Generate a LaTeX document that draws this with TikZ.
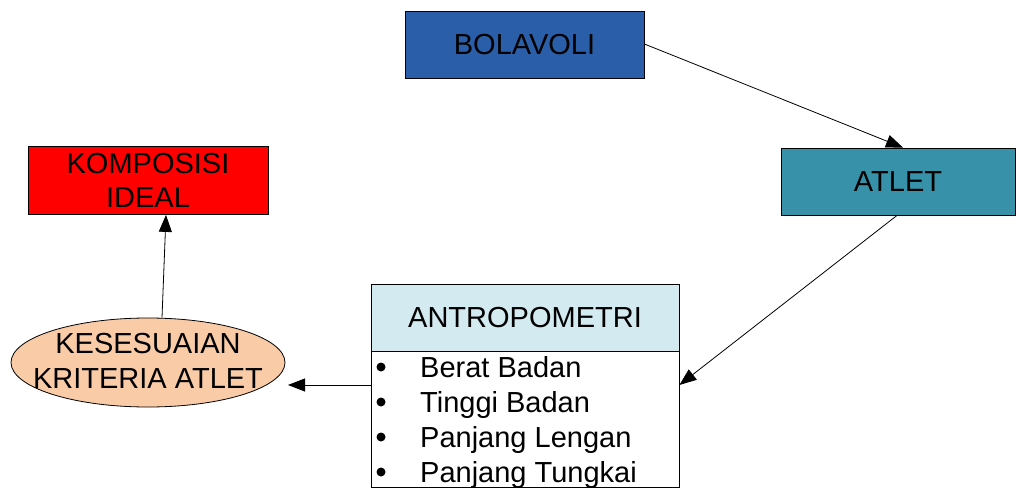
\documentclass[tikz,border=0pt]{standalone}
\usepackage{fontspec}
\setmainfont{Liberation Sans}
\usetikzlibrary{arrows.meta,shapes.geometric}
\definecolor{cblue}{HTML}{2B5EA8}
\definecolor{cteal}{HTML}{3791A9}
\definecolor{cpeach}{HTML}{F9CBA7}
\definecolor{clight}{HTML}{D3EAF0}
\tikzset{
  box/.style={draw=black, line width=0.8pt, inner sep=0pt, font=\fontsize{29}{34}\selectfont, align=center},
  txt/.style={inner sep=0pt, font=\fontsize{29}{35}\selectfont, align=center},
  conn/.style={draw=black, line width=0.8pt, -{Triangle[length=17pt,width=13pt]}},
  item/.style={anchor=base west, inner sep=0pt, font=\fontsize{29}{34}\selectfont}
}
\begin{document}
\begin{tikzpicture}[x=1pt,y=-1pt]
\useasboundingbox (0,0) rectangle (1016,489);
% nodes
\node[box, fill=cblue, minimum width=239pt, minimum height=67pt] (bola) at (524.5,44.5) {BOLAVOLI};
\node[box, fill=cteal, minimum width=234pt, minimum height=67pt] (atlet) at (898,181.5) {ATLET};
\node[box, fill=red, minimum width=240pt, minimum height=68pt] (komp) at (148,180.5) {KOMPOSISI\\IDEAL};
\node[box, ellipse, fill=cpeach, minimum width=274pt, minimum height=89pt, inner sep=0pt] (kes) at (148,362.5) {};
\node[txt] (kestext) at (148,361) {KESESUAIAN\\KRITERIA ATLET};
\node[box, fill=clight, minimum width=308pt, minimum height=67pt] (antro) at (525,317.5) {ANTROPOMETRI};
\node[box, fill=white, minimum width=308pt, minimum height=136pt, anchor=north] (list) at (antro.south) {};
% list items
\foreach \t [count=\i] in {Berat Badan, Tinggi Badan, Panjang Lengan, Panjang Tungkai}{
  \fill (381,{367+35*(\i-1)}) circle (4.5pt);
  \node[item] at (420,{377+35*(\i-1)}) {\t};
}
% connectors
\coordinate (kesleft) at (288,385);
\draw[conn] (bola.east |- 0,44) -- (atlet.north -| 903,0);
\draw[conn] ([xshift=-1pt]atlet.south) -- (list.east |- 0,385);
\draw[conn] (list.west |- 0,385) -- (kesleft);
\draw[conn] (kes.north -| 162,0) -- (komp.south -| 166,0);
\end{tikzpicture}
\end{document}
